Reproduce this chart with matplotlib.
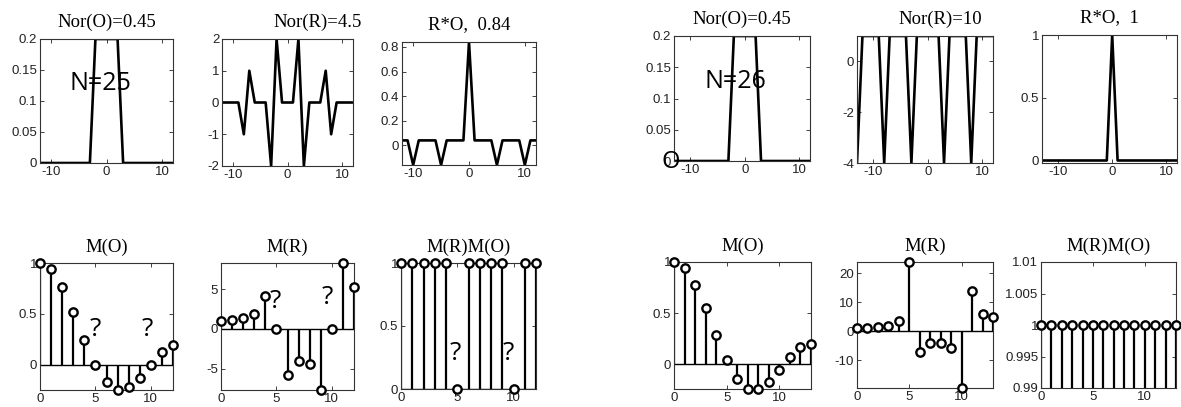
import numpy as np
import matplotlib.pyplot as plt

plt.rcParams['axes.unicode_minus'] = False
plt.rcParams['font.family'] = ['Liberation Sans', 'DejaVu Sans']

W, H = 1181, 407

# ---- data, N=25 (left group) ----
n25 = np.arange(-12, 13)
o25 = [0, 0, 0, 0, 0, 0, 0, 0, 0, 0, 0.2, 0.2, 0.2, 0.2, 0.2,
       0, 0, 0, 0, 0, 0, 0, 0, 0, 0]
r25 = [0, 0, 0, 0, -1, 1, 0, 0, 0, -2, 2, 0, 0, 0, 2, -2,
       0, 0, 0, 1, -1, 0, 0, 0, 0]
ro25 = [0.04, 0.04, -0.16, 0.04, 0.04, 0.04, 0.04, -0.16, 0.04, 0.04, 0.04, 0.04, 0.84,
        0.04, 0.04, 0.04, 0.04, -0.16, 0.04, 0.04, 0.04, 0.04, -0.16, 0.04, 0.04]
k25 = np.arange(0, 13)
mo25 = [1.0, 0.94, 0.76, 0.52, 0.24, 0.0, -0.17, -0.25, -0.22, -0.13, 0.0, 0.12, 0.19]
mr25 = [1.0, 1.07, 1.31, 1.93, 4.1, 0.0, -5.8, -4.05, -4.44, -7.7, 0.0, 8.3, 5.26]
mrmo25 = [1, 1, 1, 1, 1, 0, 1, 1, 1, 1, 0, 1, 1]

# ---- data, N=26 (right group) ----
n26 = np.arange(-13, 13)
o26 = [0, 0, 0, 0, 0, 0, 0, 0, 0, 0, 0, 0.2, 0.2, 0.2, 0.2, 0.2,
       0, 0, 0, 0, 0, 0, 0, 0, 0, 0]
r26 = [-4, 1, 1, 1, 1, -4, 1, 1, 1, 1, -4, 1, 1, 1, 1, 1,
       -4, 1, 1, 1, 1, -4, 1, 1, 1, 1]
ro26 = [0, 0, 0, 0, 0, 0, 0, 0, 0, 0, 0, 0, 0, 1,
        0, 0, 0, 0, 0, 0, 0, 0, 0, 0, 0, 0]
k26 = np.arange(0, 14)
mo26 = [1.0, 0.94, 0.78, 0.55, 0.29, 0.04, -0.14, -0.24, -0.24, -0.17, -0.05, 0.07, 0.17, 0.2]
mr26 = [1.0, 1.06, 1.28, 1.82, 3.5, 23.8, -7.1, -4.2, -4.15, -5.9, -19.6, 13.7, 6.0, 5.0]
mrmo26 = [1, 1, 1, 1, 1, 1, 1, 1, 1, 1, 1, 1, 1, 1]

fig = plt.figure(figsize=(W / 100, H / 100), dpi=100)


def make_ax(x0, x1, y0, y1):
    # pixel box -> figure fraction
    ax = fig.add_axes([x0 / W, 1 - y1 / H, (x1 - x0) / W, (y1 - y0) / H])
    ax.tick_params(direction='in', length=3, width=0.6, top=True, right=True,
                   labelsize=9.5, pad=2, colors='#222')
    for s in ax.spines.values():
        s.set_linewidth(0.8)
        s.set_color('#333')
    return ax


def title(ax, txt, x=0.5, pad=9):
    ax.set_title(txt, family='Liberation Serif', fontsize=13.5, x=x, pad=pad)


def line_panel(box, x, y, ylim, yticks, ttl, tx=0.5):
    ax = make_ax(*box)
    ax.plot(x, y, color='k', lw=1.9)
    ax.set_xlim(x[0], x[-1])
    ax.set_ylim(*ylim)
    ax.set_xticks([-10, 0, 10])
    ax.set_yticks(yticks)
    ax.set_yticklabels(['%g' % t for t in yticks])
    title(ax, ttl, tx)
    return ax


def stem_panel(box, k, y, ylim, yticks, ttl):
    ax = make_ax(*box)
    ml, sl, bl = ax.stem(k, y, linefmt='k-', markerfmt='ko', basefmt='k-')
    ml.set_markerfacecolor('white')
    ml.set_markersize(6)
    ml.set_markeredgewidth(1.7)
    ml.set_clip_on(False)
    ml.set_zorder(5)
    sl.set_linewidth(1.6)
    bl.set_linewidth(1.0)
    ax.set_xlim(k[0], k[-1])
    ax.set_ylim(*ylim)
    ax.set_xticks([0, 5, 10])
    ax.set_yticks(yticks)
    ax.set_yticklabels(['%g' % t for t in yticks])
    title(ax, ttl, pad=8)
    return ax


# top row
line_panel((40, 173, 39, 163), n25, o25, (0, 0.2), [0, 0.05, 0.1, 0.15, 0.2], 'Nor(O)=0.45')
line_panel((222, 353, 39, 166), n25, r25, (-2, 2), [-2, -1, 0, 1, 2], 'Nor(R)=4.5', 0.73)
line_panel((402, 536, 42, 165), n25, ro25, (-0.16, 0.84), [0, 0.2, 0.4, 0.6, 0.8], 'R*O,  0.84')
line_panel((674, 810, 36, 161), n26, o26, (0, 0.2), [0, 0.05, 0.1, 0.15, 0.2], 'Nor(O)=0.45')
line_panel((857, 993, 36, 163), n26, r26, (-4, 1), [-4, -2, 0], 'Nor(R)=10', 0.61)
line_panel((1042, 1177, 35, 163), n26, ro26, (-0.02, 1), [0, 0.5, 1], 'R*O,  1')

# bottom row
stem_panel((40, 173, 263, 390), k25, mo25, (min(mo25), 1), [0, 0.5, 1], 'M(O)')
stem_panel((221, 354, 263, 390), k25, mr25, (min(mr25), max(mr25)), [-5, 0, 5], 'M(R)')
stem_panel((401, 536, 263, 389), k25, mrmo25, (0, 1), [0, 0.5, 1], 'M(R)M(O)')
stem_panel((674, 811, 262, 389), k26, mo26, (min(mo26), 1), [0, 0.5, 1], 'M(O)')
stem_panel((857, 993, 262, 388), k26, mr26, (min(mr26), max(mr26)), [-10, 0, 10, 20], 'M(R)')
stem_panel((1041, 1176, 262, 388), k26, mrmo26, (0.99, 1.01), [0.99, 0.995, 1, 1.005, 1.01], 'M(R)M(O)')

# handwritten-style annotations
def note(px, py, s, size):
    fig.text(px / W, 1 - py / H, s, fontsize=size, family='Open Sans',
             ha='center', va='center', color='k', zorder=10)


note(100, 84, 'N=25', 18)
note(735, 82, 'N=26', 18)
note(671, 162, 'O', 17)
for px, py in [(95, 330), (147, 329), (275, 302), (327, 298), (455, 354), (508, 353)]:
    note(px, py, '?', 19)

fig.savefig('out.png', dpi=100)
